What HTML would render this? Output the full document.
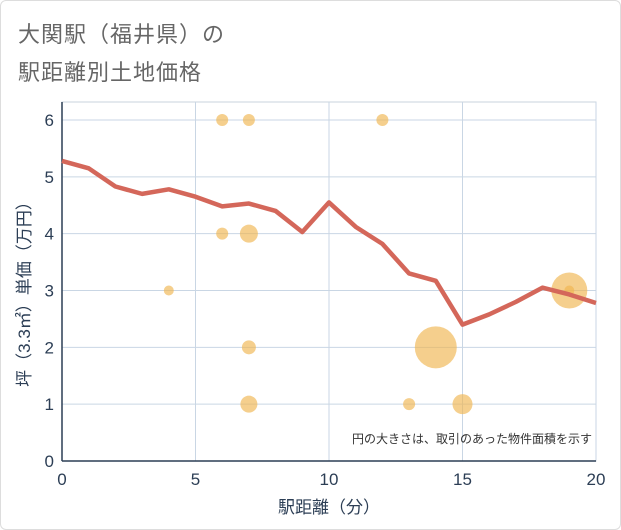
<!DOCTYPE html>
<html><head><meta charset="utf-8"><style>
body{margin:0;background:#fff;}
#wrap{position:relative;width:619px;height:528px;border:1px solid #ddd;border-radius:6px;overflow:hidden;background:#fff;font-family:"Liberation Sans","Noto Sans CJK JP",sans-serif;}
.t{position:absolute;left:17px;font-size:22px;color:#666;letter-spacing:1px;}
</style></head><body>
<div id="wrap">
<div class="t" style="top:16px">大関駅（福井県）の</div>
<div class="t" style="top:54px">駅距離別土地価格</div>
<svg id="c" width="621" height="530" style="position:absolute;left:-1px;top:-1px"></svg>
</div>
<script>
const lineX=[0,1,2,3,4,5,6,7,8,9,10,11,12,13,14,15,16,17,18,19,20];
const lineY=[5.28,5.15,4.83,4.7,4.78,4.65,4.48,4.53,4.4,4.03,4.55,4.12,3.82,3.3,3.17,2.4,2.58,2.8,3.05,2.93,2.78];
const bubX=[6,7,12,6,7,4,7,7,13,14,15,19,19];
const bubY=[6,6,6,4,4,3,2,1,1,2,1,3,3];
const bubR=[6,6,6,6,9,5,7,8.5,6,21,10,18,5];
const xTicks=[0,5,10,15,20];
const yTicks=[0,1,2,3,4,5,6];
const NS="http://www.w3.org/2000/svg";
const svg=document.getElementById('c');
const X0=62,X1=596,Y0=461,Y6=120;
const sx=v=>X0+(X1-X0)*v/20;
const sy=v=>Y0-(Y0-Y6)*v/6;
function mk(t,a){const e=document.createElementNS(NS,t);for(const k in a)e.setAttribute(k,a[k]);svg.appendChild(e);return e;}
const bg=mk('rect',{x:X0,y:102,width:X1-X0,height:Y0-102,fill:'#fff',stroke:'#c9d3de'});


xTicks.forEach(v=>{const l=mk('line',{x1:sx(v),x2:sx(v),y1:102,y2:Y0,stroke:'#c9d6e4'});


const t=mk('text',{x:sx(v),y:Y0+24,'text-anchor':'middle','font-size':17,fill:'#2c3e55'});t.textContent=v;

});
yTicks.forEach(v=>{const l=mk('line',{x1:X0,x2:X1,y1:sy(v),y2:sy(v),stroke:'#c9d6e4'});


const t=mk('text',{x:X0-8,y:sy(v)+6,'text-anchor':'end','font-size':17,fill:'#2c3e55'});t.textContent=v;

});
const ax=mk('line',{x1:X0,x2:X0,y1:102,y2:Y0,stroke:'#2c3e55','stroke-width':1.5});


const ax2=mk('line',{x1:X0,x2:X1,y1:Y0,y2:Y0,stroke:'#2c3e55','stroke-width':1.5});


bubX.forEach((v,i)=>{const c=mk('circle',{cx:sx(v),cy:sy(bubY[i]),r:bubR[i],fill:'#f0b550','fill-opacity':0.65});

});
const p=mk('polyline',{points:lineX.map((v,i)=>sx(v)+','+sy(lineY[i])).join(' '),fill:'none',stroke:'#d4675a','stroke-width':4.5,'stroke-linejoin':'round'});


const n=mk('text',{x:592,y:443,'text-anchor':'end','font-size':12,fill:'#333'});n.textContent='円の大きさは、取引のあった物件面積を示す';


const xt=mk('text',{x:(X0+X1)/2,y:513,'text-anchor':'middle','font-size':17,fill:'#2c3e55'});xt.textContent='駅距離（分）';


const yt=mk('text',{x:0,y:0,'text-anchor':'middle','font-size':17,fill:'#2c3e55',transform:'translate(30,290) rotate(-90)'});yt.textContent='坪（3.3㎡）単価（万円）';


</script>
</body></html>
